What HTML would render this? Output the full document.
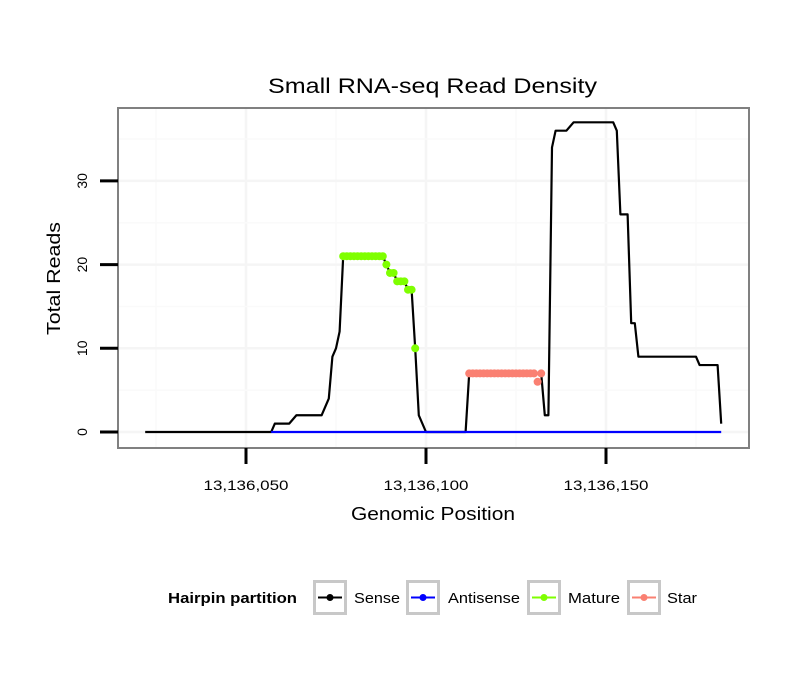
<!DOCTYPE html>
<html><head><meta charset="utf-8"><style>
body{margin:0;background:#fff;font-family:"Liberation Sans",sans-serif;}
svg text{font-family:"Liberation Sans",sans-serif;}
</style></head><body>
<svg id="chart" width="810" height="690" xmlns="http://www.w3.org/2000/svg">
<rect width="810" height="690" fill="#fff"/>
<text x="268" y="93" font-size="21" textLength="329" lengthAdjust="spacingAndGlyphs">Small RNA-seq Read Density</text>
<g id="grid"></g>
<g id="series"></g>
<rect x="118" y="108" width="631" height="340" fill="none" stroke="#808080" stroke-width="2"/>
<g id="axes"></g>
<text x="351" y="520" font-size="18" textLength="164" lengthAdjust="spacingAndGlyphs">Genomic Position</text>
<text transform="translate(60,335) rotate(-90)" font-size="18" textLength="113" lengthAdjust="spacingAndGlyphs">Total Reads</text>
<g>
<text x="168" y="603" font-size="14.5" font-weight="bold" textLength="129" lengthAdjust="spacingAndGlyphs">Hairpin partition</text>
<g id="legend"></g>
</g>
</svg>
<script>
const base = 13136000;
const xTicks = [13136050, 13136100, 13136150];
const xTickLabels = ["13,136,050", "13,136,100", "13,136,150"];
const yTicks = [0, 10, 20, 30];
const sensePos = [22,57,58,62,64,71,73,74,75,76,77,88,89,90,91,92,94,95,96,97,98,100,111,112,132,133,134,135,136,139,141,152,153,154,156,157,158,159,175,176,181,182];
const senseVal = [0,0,1,1,2,2,4,9,10,12,21,21,20,19,19,18,18,17,17,10,2,0,0,7,7,2,2,34,36,36,37,37,36,26,26,13,13,9,9,8,8,1];
const antiPos = [57,182];
const antiVal = [0,0];
const maturePos = [77,78,79,80,81,82,83,84,85,86,87,88,89,90,91,92,93,94,95,96,97];
const matureVal = [21,21,21,21,21,21,21,21,21,21,21,21,20,19,19,18,18,18,17,17,10];
const starPos = [112,113,114,115,116,117,118,119,120,121,122,123,124,125,126,127,128,129,130,131,132];
const starVal = [7,7,7,7,7,7,7,7,7,7,7,7,7,7,7,7,7,7,7,6,7];

const NS = "http://www.w3.org/2000/svg";
const X = p => 426 + ((p > 1000 ? p - base : p) - 100) * 3.6;
const Y = v => 432 - v * 8.37;
function mk(tag, attrs, parent){const e=document.createElementNS(NS,tag);for(const k in attrs)e.setAttribute(k,attrs[k]);parent.appendChild(e);return e;}
const grid=document.getElementById('grid'), axes=document.getElementById('axes'), ser=document.getElementById('series'), leg=document.getElementById('legend');

const gx=[25,50,75,100,125,150,175];
gx.forEach(p=>{const l=mk('line',{x1:X(p),x2:X(p),y1:108,y2:448,stroke:p%50===0?'#f5f5f5':'#fafafa','stroke-width':p%50===0?2.5:1.5},grid);

});
[0,5,10,15,20,25,30,35].forEach(v=>{const l=mk('line',{x1:118,x2:749,y1:Y(v),y2:Y(v),stroke:v%10===0?'#f5f5f5':'#fafafa','stroke-width':v%10===0?2.5:1.5},grid);

});

xTicks.forEach((t,i)=>{const l=mk('line',{x1:X(t),x2:X(t),y1:448,y2:464,stroke:'#000','stroke-width':3},axes);


const tx=mk('text',{x:X(t),y:490,'text-anchor':'middle','font-size':14,textLength:85,lengthAdjust:'spacingAndGlyphs'},axes);tx.textContent=xTickLabels[i];

});
yTicks.forEach(t=>{const l=mk('line',{x1:100,x2:118,y1:Y(t),y2:Y(t),stroke:'#000','stroke-width':3},axes);


const tx=mk('text',{transform:`translate(87,${Y(t)}) rotate(-90)`,'text-anchor':'middle','font-size':14},axes);tx.textContent=String(t);

});

function line(pos,val,color,name){const pts=pos.map((p,i)=>X(p)+','+Y(val[i])).join(' ');
const l=mk('polyline',{points:pts,fill:'none',stroke:color,'stroke-width':2.2,'stroke-linejoin':'round'},ser);

}
line(sensePos,senseVal,'#000','sense-line');
line(antiPos,antiVal,'#0000ff','antisense-line');
function dots(pos,val,color,name){pos.forEach((p,i)=>{const c=mk('circle',{cx:X(p),cy:Y(val[i]),r:4,fill:color},ser);

});}
dots(maturePos,matureVal,'#7fff00','mature-point');
dots(starPos,starVal,'#fa8072','star-point');

const items=[['Sense','#000',313,354,46],['Antisense','#0000ff',406,448,72],['Mature','#7fff00',527,568,52],['Star','#fa8072',627,667,30]];
items.forEach(([lab,col,bx])=>{const g=mk('g',{},leg);


mk('rect',{x:bx+1.5,y:581.5,width:31,height:32,fill:'#fff',stroke:'#c8c8c8','stroke-width':3},g);
mk('line',{x1:bx+5,x2:bx+29,y1:597.5,y2:597.5,stroke:col,'stroke-width':2},g);
mk('circle',{cx:bx+17,cy:597.5,r:3.5,fill:col},g);});
items.forEach(([lab,col,bx,tx,w])=>{const t=mk('text',{x:tx,y:603,'font-size':14.5,textLength:w,lengthAdjust:'spacingAndGlyphs'},leg);t.textContent=lab;

});
</script>
</body></html>
